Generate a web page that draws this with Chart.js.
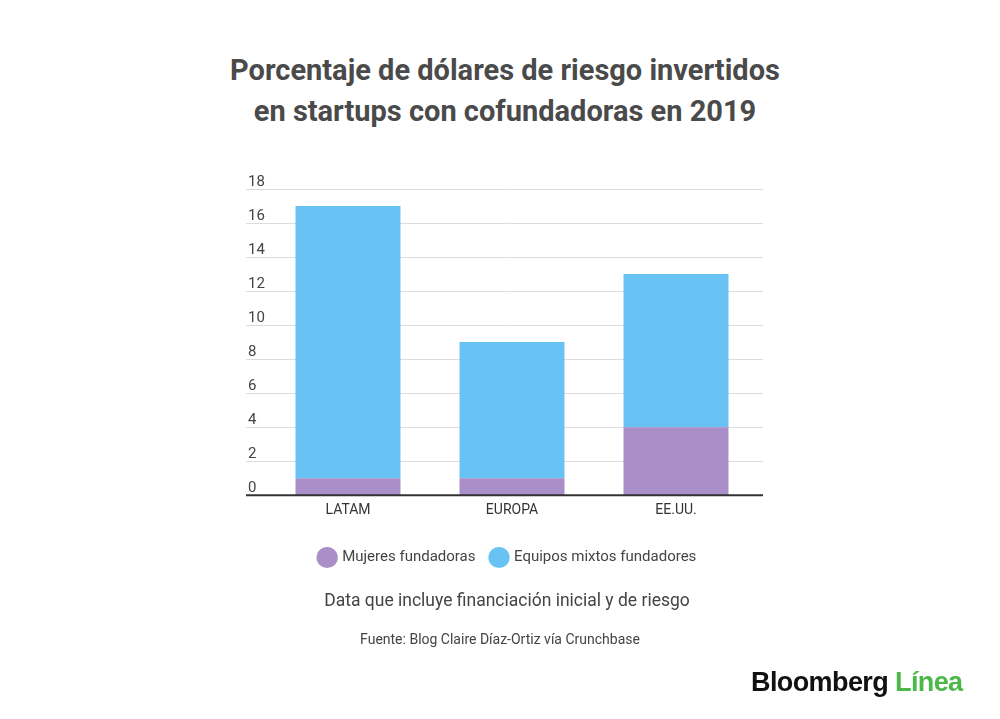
<!DOCTYPE html>
<html>
<head>
<meta charset="utf-8">
<script src="https://cdn.jsdelivr.net/npm/chart.js"></script>
<style>
  html, body { margin: 0; padding: 0; background: #fff; }
  body { width: 1000px; height: 719px; position: relative; overflow: hidden; font-family: Roboto, sans-serif; }
  .title { position: absolute; left: 0; width: 1010px; top: 50px; text-align: center; font-weight: bold; font-size: 29px; line-height: 41px; color: #4a4a4a; }
  .wrap { position: absolute; left: 0; top: 0; width: 1000px; height: 719px; }
  .note { position: absolute; left: 0; width: 1014px; top: 590px; text-align: center; font-size: 17.5px; color: #444; }
  .src { position: absolute; left: 0; width: 1000px; top: 631px; text-align: center; font-size: 14px; color: #444; }
  .logo { position: absolute; left: 751px; top: 667px; font-size: 27px; font-weight: bold; letter-spacing: -0.6px; color: #111; font-family: "Liberation Sans", Arial, sans-serif; }
  .logo span { color: #4cb848; }
</style>
</head>
<body>
  <div class="title">Porcentaje de dólares de riesgo invertidos<br>en startups con cofundadoras en 2019</div>
  <div class="wrap"><canvas id="chart"></canvas></div>
  <div class="note">Data que incluye financiación inicial y de riesgo</div>
  <div class="src">Fuente: Blog Claire Díaz-Ortiz vía Crunchbase</div>
  <div class="logo">Bloomberg <span>Línea</span></div>
<script>
const categories = ['LATAM', 'EUROPA', 'EE.UU.'];
const mujeres = [1, 1, 4];
const mixtos = [16, 8, 9];
const yTicks = [0, 2, 4, 6, 8, 10, 12, 14, 16, 18];

// gridlines across the full width, tick labels sitting above each line
const gridPlugin = {
  id: 'gridPlugin',
  beforeDatasetsDraw(chart) {
    const { ctx, chartArea, scales } = chart;
    const x0 = chartArea.left - 20, x1 = chartArea.right + 5;
    ctx.save();
    ctx.font = '15px Roboto';
    ctx.fillStyle = '#444';
    ctx.textBaseline = 'bottom';
    yTicks.forEach(v => {
      const y = scales.y.getPixelForValue(v);
      if (v > 0) {
        ctx.strokeStyle = '#dcdcdc';
        ctx.lineWidth = 1;
        ctx.beginPath();
        ctx.moveTo(x0, Math.round(y) + 0.5);
        ctx.lineTo(x1, Math.round(y) + 0.5);
        ctx.stroke();
      }
      ctx.fillText(String(v), x0 + 2, y + 1);
    });
    ctx.restore();
  },
  afterDatasetsDraw(chart) {
    const { ctx, chartArea, scales } = chart;
    const y = scales.y.getPixelForValue(0);
    ctx.save();
    ctx.strokeStyle = '#333';
    ctx.lineWidth = 2;
    ctx.beginPath();
    ctx.moveTo(chartArea.left - 20, y);
    ctx.lineTo(chartArea.right + 5, y);
    ctx.stroke();
    ctx.restore();
  }
};

new Chart(document.getElementById('chart'), {
  type: 'bar',
  data: {
    labels: categories,
    datasets: [
      { label: 'Mujeres fundadoras', data: mujeres, backgroundColor: '#a98ec7' },
      { label: 'Equipos mixtos fundadores', data: mixtos, backgroundColor: '#68c3f4' }
    ]
  },
  options: {
    responsive: true,
    maintainAspectRatio: false,
    animation: false,
    layout: { padding: { left: 258, right: 242, top: 189, bottom: 144 } },
    datasets: { bar: { barPercentage: 0.64, categoryPercentage: 1 } },
    plugins: {
      title: { display: false },
      tooltip: { enabled: false },
      legend: {
        position: 'bottom',
        labels: {
          usePointStyle: true,
          pointStyle: 'circle',
          boxWidth: 18,
          boxHeight: 18,
          padding: 16,
          color: '#444',
          font: { family: 'Roboto', size: 15 }
        }
      }
    },
    scales: {
      x: {
        stacked: true,
        grid: { display: false },
        border: { display: false },
        ticks: { color: '#333', font: { family: 'Roboto', size: 14 }, padding: -1 },
        afterFit(scale) { scale.height += 16; }
      },
      y: {
        stacked: true,
        min: 0,
        max: 18,
        ticks: { stepSize: 2, display: false },
        grid: { display: false },
        border: { display: false }
      }
    }
  },
  plugins: [gridPlugin]
});
</script>
</body>
</html>
